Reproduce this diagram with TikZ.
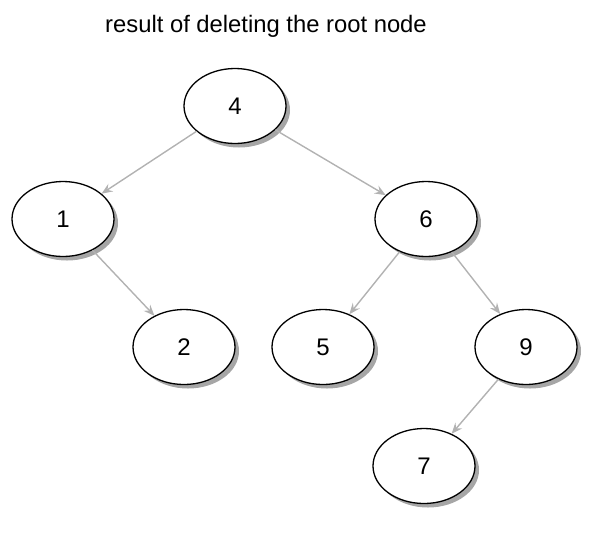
\documentclass[tikz,border=0pt]{standalone}
\usepackage{fontspec}
\setmainfont{Liberation Sans}
\usetikzlibrary{shapes.geometric,shadows,arrows.meta}
\begin{document}
\begin{tikzpicture}[x=1pt,y=1pt,
  treenode/.style={ellipse,draw=black,line width=1.3pt,fill=white,
    minimum width=102pt,minimum height=75pt,inner sep=0pt,
    font=\fontsize{24}{26}\selectfont,
    drop shadow={shadow xshift=4pt,shadow yshift=-4pt,fill=black!35,opacity=1}},
  edge/.style={draw=black!30,line width=1.4pt,
    -{Stealth[length=11pt,width=9pt,inset=4pt]}}]
\useasboundingbox (0,0) rectangle (604,-550);
\node[font=\fontsize{23.8}{26}\selectfont] (title) at (266,-26) {result of deleting the root node};
\node[treenode] (n4) at (235,-106) {4};
\node[treenode] (n1) at (63,-219) {1};
\node[treenode] (n6) at (426,-219) {6};
\node[treenode] (n2) at (184,-347) {2};
\node[treenode] (n5) at (323,-347) {5};
\node[treenode] (n9) at (526,-347) {9};
\node[treenode] (n7) at (424,-466) {7};
\draw[edge] (n4) -- (n1);
\draw[edge] (n4) -- (n6);
\draw[edge] (n1) -- (n2);
\draw[edge] (n6) -- (n5);
\draw[edge] (n6) -- (n9);
\draw[edge] (n9) -- (n7);
\end{tikzpicture}
\end{document}
